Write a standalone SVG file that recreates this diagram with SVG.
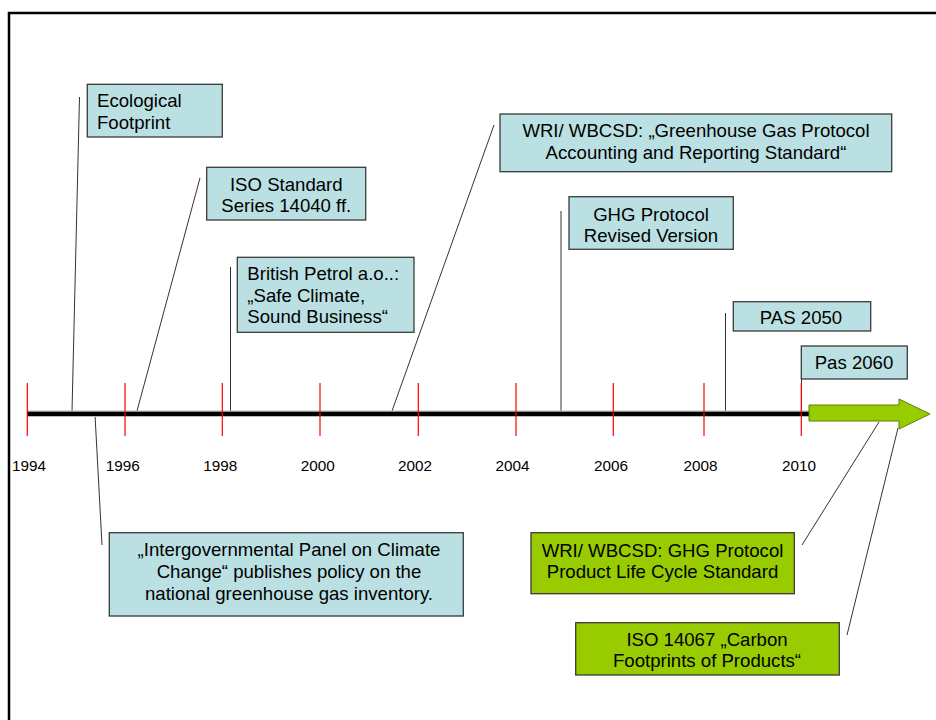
<svg xmlns="http://www.w3.org/2000/svg" width="936" height="720" viewBox="0 0 936 720">
<style>
text{font-family:"Liberation Sans",Arial,sans-serif;fill:#000}
.t{font-size:18.6px}
.y{font-size:15.3px;text-anchor:middle}
.c{text-anchor:middle}
.blue{fill:#BBE0E3;stroke:#3a3a3a;stroke-width:1.3}
.green{fill:#99CC00;stroke:#3a3a3a;stroke-width:1.3}
.lead{stroke:#333;stroke-width:1;fill:none}
.tick{stroke:#FF0000;stroke-width:1.2}
</style>
<rect x="0" y="0" width="936" height="720" fill="#fff"/>
<rect x="9" y="13" width="960" height="760" fill="none" stroke="#000" stroke-width="2.5"/>

<g id="connectors">
<line class="lead" x1="79.5" y1="97" x2="72" y2="411"/>
<line class="lead" x1="200" y1="178" x2="137" y2="411"/>
<line class="lead" x1="230.5" y1="267" x2="230.5" y2="411"/>
<line class="lead" x1="494" y1="125" x2="392" y2="411"/>
<line class="lead" x1="561" y1="211" x2="561" y2="411"/>
<line class="lead" x1="725.5" y1="313" x2="725.5" y2="411"/>
<line class="lead" x1="801.5" y1="379" x2="801.5" y2="411"/>
<line class="lead" x1="95" y1="415" x2="102" y2="545"/>
<line class="lead" x1="879" y1="422" x2="802" y2="545"/>
<line class="lead" x1="898" y1="428" x2="847" y2="635"/>
</g>

<g id="timeline">
<line x1="27" y1="413.8" x2="810" y2="413.8" stroke="#bbb" stroke-width="6.5"/>
<line x1="27" y1="413.8" x2="810" y2="413.8" stroke="#000" stroke-width="4.2"/>
<line class="tick" x1="27.3" y1="383" x2="27.3" y2="436"/>
<line class="tick" x1="125" y1="383" x2="125" y2="436"/>
<line class="tick" x1="222.3" y1="383" x2="222.3" y2="436"/>
<line class="tick" x1="320" y1="383" x2="320" y2="436"/>
<line class="tick" x1="418.3" y1="383" x2="418.3" y2="436"/>
<line class="tick" x1="516" y1="383" x2="516" y2="436"/>
<line class="tick" x1="613.3" y1="383" x2="613.3" y2="436"/>
<line class="tick" x1="704" y1="383" x2="704" y2="436"/>
<line class="tick" x1="801.3" y1="383" x2="801.3" y2="436"/>
<polygon points="809,405 899,405 899,399 930,414 899,429 899,421 809,421" fill="#99CC00" stroke="#5f7f00" stroke-width="1"/>
<text class="y" x="29" y="471">1994</text>
<text class="y" x="122.7" y="471">1996</text>
<text class="y" x="220.3" y="471">1998</text>
<text class="y" x="317.7" y="471">2000</text>
<text class="y" x="415" y="471">2002</text>
<text class="y" x="512.5" y="471">2004</text>
<text class="y" x="611" y="471">2006</text>
<text class="y" x="700.5" y="471">2008</text>
<text class="y" x="799" y="471">2010</text>
</g>

<g id="ecological">
<rect class="blue" x="87.3" y="84.3" width="135" height="52.7"/>
<text class="t" x="97" y="107">Ecological</text>
<text class="t" x="97" y="129">Footprint</text>
</g>

<g id="iso14040">
<rect class="blue" x="206.7" y="167.3" width="159" height="52.7"/>
<text class="t c" x="286.3" y="191">ISO Standard</text>
<text class="t c" x="286.3" y="212">Series 14040 ff.</text>
</g>

<g id="bp">
<rect class="blue" x="237.3" y="257.3" width="176.7" height="75"/>
<text class="t" x="247.3" y="280">British Petrol a.o..:</text>
<text class="t" x="247.3" y="302">„Safe Climate,</text>
<text class="t" x="247.3" y="323">Sound Business“</text>
</g>

<g id="wri-ghg">
<rect class="blue" x="500" y="114" width="391.7" height="57.7"/>
<text class="t c" x="696" y="137">WRI/ WBCSD: „Greenhouse Gas Protocol</text>
<text class="t c" x="696" y="159">Accounting and Reporting Standard“</text>
</g>

<g id="ghg-revised">
<rect class="blue" x="569" y="196.7" width="164.3" height="52.6"/>
<text class="t c" x="651" y="221">GHG Protocol</text>
<text class="t c" x="651" y="242">Revised Version</text>
</g>

<g id="pas2050">
<rect class="blue" x="733.3" y="301.7" width="137.4" height="29.3"/>
<text class="t c" x="801" y="324.3">PAS 2050</text>
</g>

<g id="pas2060">
<rect class="blue" x="801.3" y="346" width="106" height="33"/>
<text class="t c" x="854" y="369">Pas 2060</text>
</g>

<g id="ipcc">
<rect class="blue" x="109.3" y="532.7" width="354" height="83.3"/>
<text class="t c" x="289" y="556">„Intergovernmental Panel on Climate</text>
<text class="t c" x="289" y="578">Change“ publishes policy on the</text>
<text class="t c" x="289" y="600">national greenhouse gas inventory.</text>
</g>

<g id="wri-product">
<rect class="green" x="531" y="532.7" width="263.3" height="61"/>
<text class="t c" x="662.5" y="557">WRI/ WBCSD: GHG Protocol</text>
<text class="t c" x="662.5" y="578">Product Life Cycle Standard</text>
</g>

<g id="iso14067">
<rect class="green" x="575.7" y="622.7" width="263.6" height="52.3"/>
<text class="t c" x="707" y="646">ISO 14067 „Carbon</text>
<text class="t c" x="707" y="667">Footprints of Products“</text>
</g>
</svg>
